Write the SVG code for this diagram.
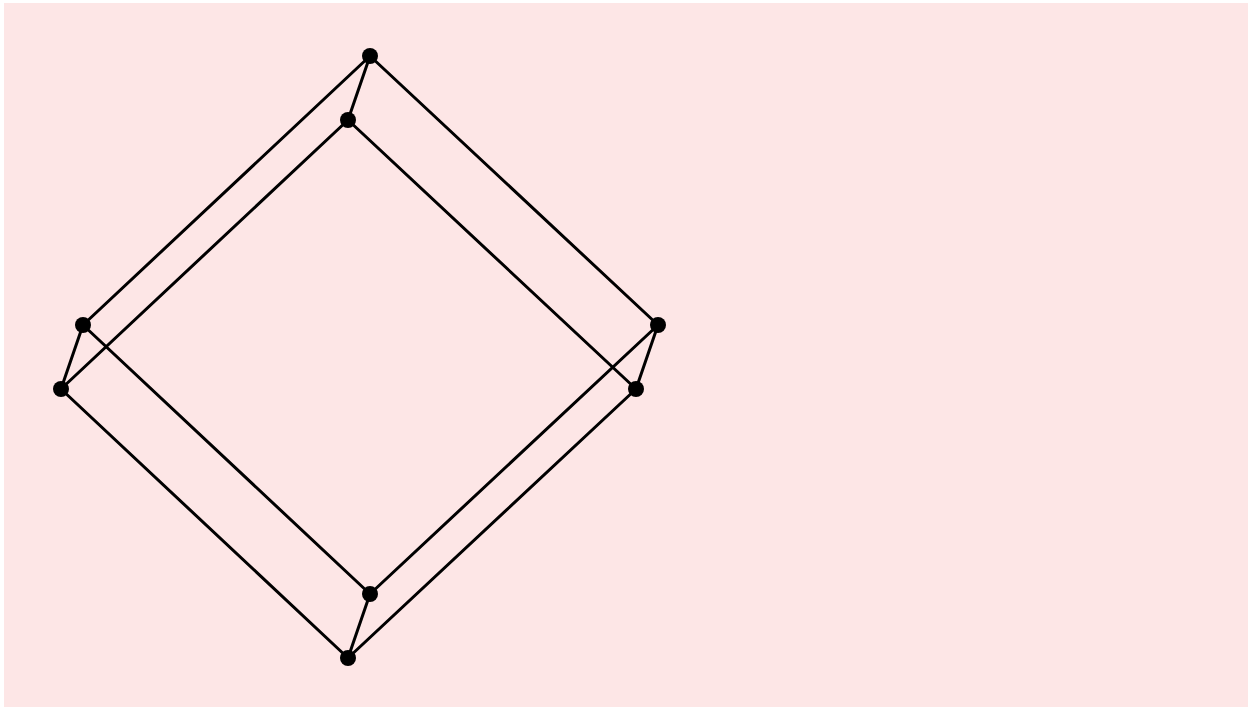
<svg xmlns="http://www.w3.org/2000/svg" width="1252" height="710" viewBox="0 0 1252 710">
<style>
.e{stroke:#000;stroke-width:3;fill:none;stroke-linecap:round}
.n{fill:#000}
</style>
<rect x="0" y="0" width="1252" height="710" fill="#fff"/>
<rect x="4" y="3" width="1244" height="704" fill="#fde6e6"/>
<g id="connectors">
<line class="e" x1="370" y1="56" x2="83" y2="325"/>
<line class="e" x1="370" y1="56" x2="658" y2="325"/>
<line class="e" x1="348" y1="120" x2="61" y2="389"/>
<line class="e" x1="348" y1="120" x2="636" y2="389"/>
<line class="e" x1="83" y1="325" x2="370" y2="594"/>
<line class="e" x1="658" y1="325" x2="370" y2="594"/>
<line class="e" x1="61" y1="389" x2="348" y2="658"/>
<line class="e" x1="636" y1="389" x2="348" y2="658"/>
<line class="e" x1="370" y1="56" x2="348" y2="120"/>
<line class="e" x1="83" y1="325" x2="61" y2="389"/>
<line class="e" x1="658" y1="325" x2="636" y2="389"/>
<line class="e" x1="370" y1="594" x2="348" y2="658"/>
</g>
<g id="n1"><circle class="n" cx="370" cy="56" r="8"/></g>
<g id="n2"><circle class="n" cx="348" cy="120" r="8"/></g>
<g id="n3"><circle class="n" cx="83" cy="325" r="8"/></g>
<g id="n4"><circle class="n" cx="61" cy="389" r="8"/></g>
<g id="n5"><circle class="n" cx="658" cy="325" r="8"/></g>
<g id="n6"><circle class="n" cx="636" cy="389" r="8"/></g>
<g id="n7"><circle class="n" cx="370" cy="594" r="8"/></g>
<g id="n8"><circle class="n" cx="348" cy="658" r="8"/></g>
</svg>
